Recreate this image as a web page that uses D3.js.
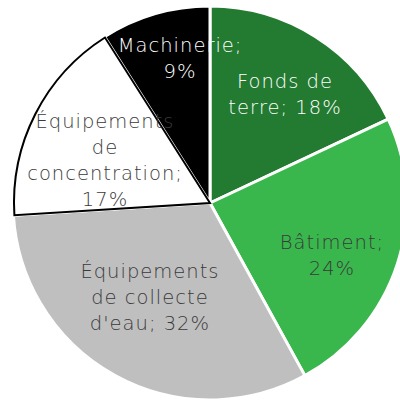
<!DOCTYPE html>
<html>
<head>
<meta charset="utf-8">
<script src="https://cdn.jsdelivr.net/npm/d3@7"></script>
<style>
  body { margin: 0; background: #fff; }
  svg { display: block; }
  text { font-family: "Century Gothic", "DejaVu Sans", sans-serif; font-size: 19.5px; font-weight: 200; letter-spacing: 1px; }
</style>
</head>
<body>
<div id="chart"></div>
<script>
// slices, clockwise from 12 o'clock
var categories = ["Fonds de terre", "Bâtiment", "Équipements de collecte d'eau", "Équipements de concentration", "Machinerie"];
var values = [18, 24, 32, 17, 9];
var labelLines = [
  ["Fonds de", "terre; 18%"],
  ["Bâtiment;", "24%"],
  ["Équipements", "de collecte", "d'eau; 32%"],
  ["Équipements", "de", "concentration;", "17%"],
  ["Machinerie;", "9%"]
];
var colors = ["#237a31", "#39b74d", "#bfbfbf", "#ffffff", "#000000"];
var textColors = ["#ffffff", "#3a3a3a", "#3a3a3a", "#3a3a3a", "#ffffff"];
// label placement: fraction of radius and angle shift (deg) from slice middle
var labelRadius = [0.672, 0.674, 0.566, 0.576, 0.749];
var labelShift = [2.1, 5.3, 3.8, -4.7, 4.5];

var width = 400, height = 400,
    cx = 210, cy = 203, radius = 197;

var svg = d3.select("#chart").append("svg")
  .attr("width", width).attr("height", height);

var g = svg.append("g").attr("transform", "translate(" + cx + "," + cy + ")");

var pie = d3.pie().sort(null).value(d => d)(values);
var arc = d3.arc().innerRadius(0).outerRadius(radius);

g.selectAll("path.slice")
  .data(pie)
  .enter().append("path")
  .attr("class", "slice")
  .attr("d", arc)
  .attr("fill", (d, i) => colors[i])
  .attr("stroke", "#fff")
  .attr("stroke-width", 3)
  .attr("stroke-linejoin", "round");

// white slice gets a dark outline
g.append("path")
  .datum(pie[3])
  .attr("d", d3.arc().innerRadius(0).outerRadius(radius - 1))
  .attr("fill", "none")
  .attr("stroke", "#000")
  .attr("stroke-width", 2);

var lineH = 26;
var labels = g.selectAll("text.lbl")
  .data(pie)
  .enter().append("text")
  .attr("class", "lbl")
  .attr("text-anchor", "middle")
  .attr("fill", (d, i) => textColors[i])
  .attr("transform", (d, i) => {
    var a = (d.startAngle + d.endAngle) / 2 + labelShift[i] * Math.PI / 180,
        r = radius * labelRadius[i];
    return "translate(" + (r * Math.sin(a)) + "," + (-r * Math.cos(a)) + ")";
  });

labels.each(function(d, i) {
  var lines = labelLines[i], t = d3.select(this);
  lines.forEach((s, k) => {
    t.append("tspan").attr("x", 0)
      .attr("y", (k - (lines.length - 1) / 2) * lineH)
      .attr("dy", "0.35em")
      .text(s);
  });
});
</script>
</body>
</html>
